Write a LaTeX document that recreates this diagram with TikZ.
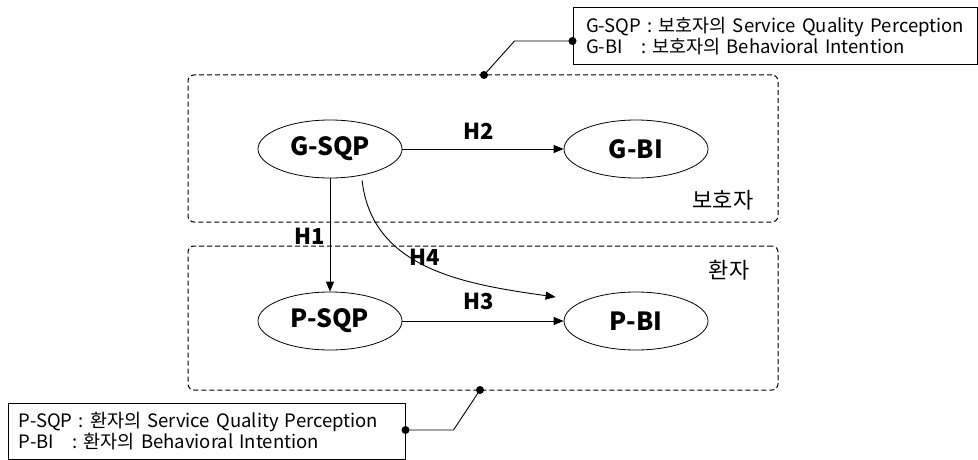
\documentclass[tikz,border=0pt]{standalone}
\usepackage{fontspec}
\setmainfont{Noto Sans CJK KR}
\usetikzlibrary{arrows.meta, shapes.geometric, calc}

\begin{document}
\begin{tikzpicture}[x=1pt, y=-1pt,
    construct/.style={draw, ellipse, line width=0.8pt, minimum width=144pt, minimum height=58pt, inner sep=0pt, font=\fontsize{25}{28}\selectfont\bfseries},
    groupbox/.style={draw, dashed, dash pattern=on 5pt off 3pt, line width=1pt, rounded corners=6pt, minimum width=590pt, inner sep=0pt},
    legendbox/.style={draw, line width=1pt, align=left, inner sep=0pt, font=\fontsize{18.5}{21}\selectfont},
    hyp/.style={font=\fontsize{22}{24}\selectfont\bfseries},
    grouplbl/.style={font=\fontsize{22}{24}\selectfont},
    arr/.style={-{Triangle[length=10pt,width=8pt]}, line width=0.9pt},
    dot/.style={circle, fill, inner sep=0pt, minimum size=8pt}]
    \useasboundingbox (0,0) rectangle (978,460);

    % Groups
    \node[groupbox, minimum height=147pt] (guard) at (483,148.5) {};
    \node[groupbox, minimum height=144pt] (patient) at (483,318) {};
    \node[grouplbl] (guardlbl) at (723,200) {보호자};
    \node[grouplbl] (patientlbl) at (729,270) {환자};

    % Constructs
    \node[construct] (gsqp) at (330,149) {G-SQP};
    \node[construct] (gbi) at (636,149) {G-BI};
    \node[construct] (psqp) at (330,321) {P-SQP};
    \node[construct] (pbi) at (636,321) {P-BI};

    % Hypotheses
    \draw[arr] (gsqp) -- (gbi);
    \draw[arr] (gsqp) -- (psqp);
    \draw[arr] (psqp) -- (pbi);
    \draw[arr, shorten <=5pt] (gsqp.-40) .. controls (372,268) and (462,284) .. ($(pbi.west)+(-8,-24)$);
    \node[hyp] (h1) at (310,236) {H1};
    \node[hyp] (h2) at (479,131) {H2};
    \node[hyp] (h3) at (479,301) {H3};
    \node[hyp] (h4) at (425,257) {H4};

    % Legends
    \node[legendbox, minimum width=404pt, minimum height=57pt, text width=398pt] (legg) at (775,36.5)
        {\hspace*{10pt}G-SQP : 보호자의 Service Quality Perception\\\hspace*{10pt}G-BI\ \ \ : 보호자의 Behavioral Intention};
    \node[legendbox, minimum width=397pt, minimum height=56pt, text width=391pt] (legp) at (206.5,431)
        {\hspace*{8pt}P-SQP : 환자의 Service Quality Perception\\\hspace*{8pt}P-BI\ \ \ : 환자의 Behavioral Intention};

    \coordinate (gtop) at (484,75);
    \coordinate (pbot) at (480,390);
    \node[dot] (gdot1) at (gtop) {};
    \node[dot] (gdot2) at (legg.west |- 0,41) {};
    \node[dot] (pdot1) at (pbot) {};
    \node[dot] (pdot2) at (legp.east |- 0,430) {};
    \draw[line width=0.9pt] (gdot2.center) -- ++(-58,0) -- (gdot1.center);
    \draw[line width=0.9pt] (pdot2.center) -- ++(48,0) -- (pdot1.center);
\end{tikzpicture}
\end{document}
